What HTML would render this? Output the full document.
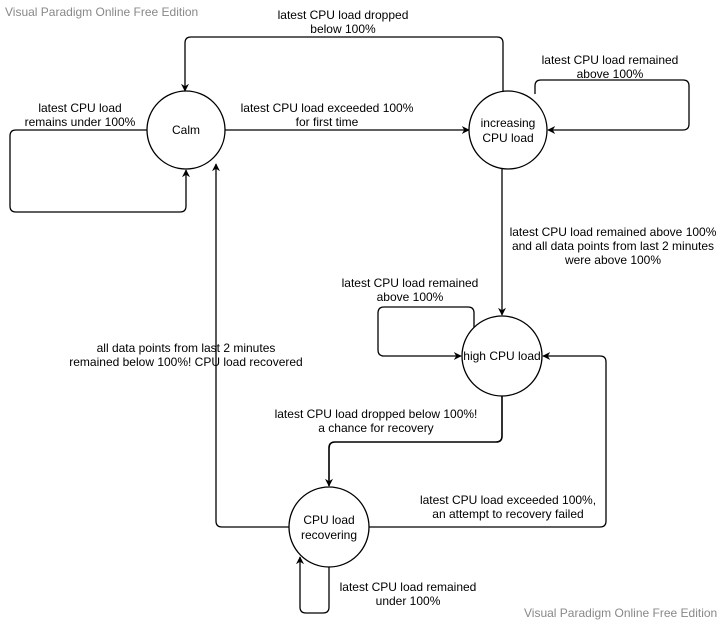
<!DOCTYPE html>
<html><head><meta charset="utf-8"><style>
html,body{margin:0;padding:0;background:#fff;}
svg{display:block;}
text{font-family:"Liberation Sans",sans-serif;font-size:12px;fill:#000;}
.w{fill:#888;font-size:12px;}
</style></head><body>
<svg width="724" height="623" viewBox="0 0 724 623" xmlns="http://www.w3.org/2000/svg">
<defs>
<marker id="a" viewBox="0 0 10 10" refX="9" refY="5" markerWidth="8" markerHeight="8" orient="auto" markerUnits="userSpaceOnUse">
<path d="M0,0 L10,5 L0,10 L3,5 z" fill="#000"/></marker>
</defs>
<text class="w" x="5" y="16">Visual Paradigm Online Free Edition</text>
<text class="w" x="524" y="617">Visual Paradigm Online Free Edition</text>
<g fill="none" stroke="#000" stroke-width="1.3">
<circle cx="186" cy="130" r="39" fill="#fff"/>
<circle cx="508" cy="130" r="39" fill="#fff"/>
<circle cx="502" cy="356" r="40" fill="#fff"/>
<circle cx="329" cy="527" r="40" fill="#fff"/>
<!-- calm -> increasing -->
<path d="M225,130 L469,130" marker-end="url(#a)"/>
<!-- increasing -> calm top -->
<path d="M503,92 L503,43 Q503,37 497,37 L191,37 Q185,37 185,43 L185,91" marker-end="url(#a)"/>
<!-- calm self loop -->
<path d="M147,130 L16,130 Q10,130 10,136 L10,206 Q10,212 16,212 L180,212 Q186,212 186,206 L186,170" marker-end="url(#a)"/>
<!-- increasing self loop -->
<path d="M535,94 L535,86 Q535,80 541,80 L683,80 Q689,80 689,86 L689,124 Q689,130 683,130 L548,130" marker-end="url(#a)"/>
<!-- increasing -> high -->
<path d="M502,169 L502,315" marker-end="url(#a)"/>
<!-- high self loop -->
<path d="M474,327 L474,313 Q474,307 468,307 L384,307 Q378,307 378,313 L378,350 Q378,356 384,356 L461,356" marker-end="url(#a)"/>
<!-- high -> recovering -->
<path d="M502,396 L502,436 Q502,442 496,442 L335,442 Q329,442 329,448 L329,486" marker-end="url(#a)" stroke-width="1.6"/>
<!-- recovering -> high -->
<path d="M369,527 L600,527 Q606,527 606,521 L606,362 Q606,356 600,356 L543,356" marker-end="url(#a)"/>
<!-- recovering -> calm -->
<path d="M289,527 L222,527 Q216,527 216,521 L216,164" marker-end="url(#a)"/>
<!-- recovering self loop -->
<path d="M329,567 L329,607 Q329,613 323,613 L306,613 Q300,613 300,607 L300,557" marker-end="url(#a)"/>
</g>
<g text-anchor="middle">
<text x="186" y="134">Calm</text>
<text x="508" y="127">increasing</text>
<text x="508" y="142">CPU load</text>
<text x="502" y="360">high CPU load</text>
<text x="329" y="524">CPU load</text>
<text x="329" y="539">recovering</text>
<text x="343" y="19">latest CPU load dropped</text>
<text x="343" y="33">below 100%</text>
<text x="610" y="64">latest CPU load remained</text>
<text x="610" y="78">above 100%</text>
<text x="80" y="112">latest CPU load</text>
<text x="80" y="126">remains under 100%</text>
<text x="327" y="112">latest CPU load exceeded 100%</text>
<text x="327" y="126">for first time</text>
<text x="613" y="236">latest CPU load remained above 100%</text>
<text x="613" y="250">and all data points from last 2 minutes</text>
<text x="613" y="264">were above 100%</text>
<text x="410" y="287">latest CPU load remained</text>
<text x="410" y="301">above 100%</text>
<text x="186" y="352">all data points from last 2 minutes</text>
<text x="186" y="366">remained below 100%! CPU load recovered</text>
<text x="376" y="418">latest CPU load dropped below 100%!</text>
<text x="376" y="432">a chance for recovery</text>
<text x="508" y="504">latest CPU load exceeded 100%,</text>
<text x="508" y="518">an attempt to recovery failed</text>
<text x="408" y="591">latest CPU load remained</text>
<text x="408" y="605">under 100%</text>
</g>
</svg>
</body></html>
